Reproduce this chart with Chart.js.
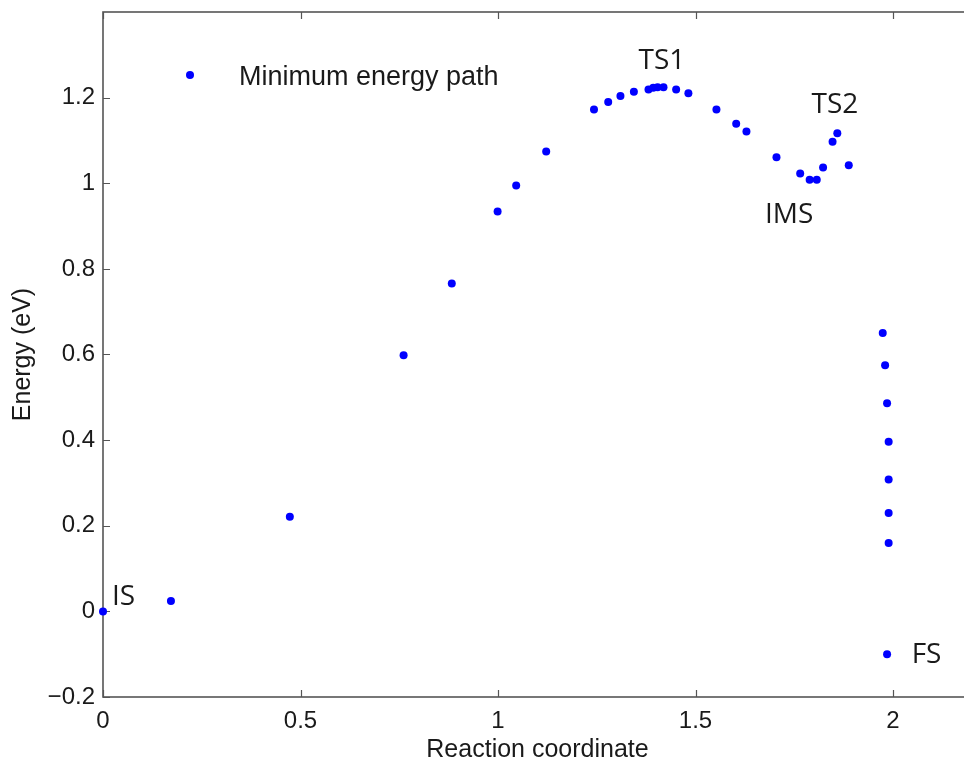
<!DOCTYPE html>
<html><head><meta charset="utf-8">
<script src="https://cdn.jsdelivr.net/npm/chart.js@4/dist/chart.umd.min.js"></script>
<style>
html,body{margin:0;padding:0;background:#fff;overflow:hidden;}
#wrap{position:relative;width:964px;height:762px;overflow:hidden;background:#fff;}
#c{position:absolute;left:0;top:0;}
</style></head><body>
<div id="wrap"><canvas id="c" width="984" height="762" style="width:984px;height:762px"></canvas></div>
<script>
const seriesName = 'Minimum energy path';
const reactionCoord = [0, 0.172, 0.473, 0.761, 0.883, 0.999, 1.046, 1.122, 1.243, 1.279, 1.310, 1.344, 1.381, 1.393, 1.404, 1.419, 1.451, 1.482, 1.553, 1.603, 1.629, 1.705, 1.765, 1.789, 1.807, 1.823, 1.847, 1.859, 1.888, 1.974, 1.980, 1.985, 1.989, 1.989, 1.989, 1.989, 1.985];
const energy = [0, 0.024, 0.221, 0.598, 0.766, 0.934, 0.995, 1.074, 1.172, 1.190, 1.204, 1.214, 1.219, 1.223, 1.224, 1.224, 1.219, 1.210, 1.172, 1.139, 1.121, 1.061, 1.023, 1.008, 1.008, 1.037, 1.097, 1.117, 1.042, 0.650, 0.575, 0.486, 0.396, 0.308, 0.230, 0.160, -0.100];
const xTickValues = [0, 0.5, 1, 1.5, 2];
const xTickLabels = ['0', '0.5', '1', '1.5', '2'];
const yTickValues = [-0.2, 0, 0.2, 0.4, 0.6, 0.8, 1, 1.2];
const yTickLabels = ['\u22120.2', '0', '0.2', '0.4', '0.6', '0.8', '1', '1.2'];
const stateNames = ['IS', 'TS1', 'TS2', 'IMS', 'FS'];
const stateNameX = [0.052, 1.415, 1.853, 1.737, 2.085];
const stateNameY = [0.016, 1.268, 1.165, 0.907, -0.120];

const AXIS_COLOR = '#555555';
const TEXT_COLOR = '#1a1a1a';
const POINT_COLOR = '#0000ff';

const framePlugin = {
  id: 'frame',
  beforeDatasetsDraw(chart) {
    const {ctx, chartArea: a, scales: {x, y}} = chart;
    ctx.save();
    ctx.strokeStyle = AXIS_COLOR;
    ctx.lineWidth = 1.6;
    ctx.strokeRect(a.left, a.top, a.right - a.left, a.bottom - a.top);
    ctx.lineWidth = 1.2;
    const tl = 7;
    ctx.beginPath();
    xTickValues.forEach(v => {
      const px = Math.round(x.getPixelForValue(v)) + 0.5;
      ctx.moveTo(px, a.bottom); ctx.lineTo(px, a.bottom - tl);
      ctx.moveTo(px, a.top); ctx.lineTo(px, a.top + tl);
    });
    yTickValues.forEach(v => {
      const py = Math.round(y.getPixelForValue(v)) + 0.5;
      ctx.moveTo(a.left, py); ctx.lineTo(a.left + tl, py);
      ctx.moveTo(a.right, py); ctx.lineTo(a.right - tl, py);
    });
    ctx.stroke();
    ctx.restore();
  },
  afterDraw(chart) {
    const {ctx, scales: {x, y}} = chart;
    ctx.save();
    // legend (inside the axes, top-left)
    ctx.fillStyle = POINT_COLOR;
    ctx.beginPath();
    ctx.arc(190, 75, 4, 0, Math.PI * 2);
    ctx.fill();
    ctx.fillStyle = TEXT_COLOR;
    ctx.font = '27px "Liberation Sans", Arial, sans-serif';
    ctx.textAlign = 'left';
    ctx.textBaseline = 'middle';
    ctx.fillText(chart.data.datasets[0].label, 239, 78);
    // state annotations
    ctx.font = '28px "Open Sans", sans-serif';
    ctx.textAlign = 'center';
    ctx.textBaseline = 'alphabetic';
    stateNames.forEach((t, i) => {
      ctx.fillText(t, x.getPixelForValue(stateNameX[i]), y.getPixelForValue(stateNameY[i]));
    });
    ctx.restore();
  }
};

new Chart(document.getElementById('c'), {
  type: 'scatter',
  data: {
    datasets: [{
      label: seriesName,
      data: reactionCoord.map((v, i) => ({x: v, y: energy[i]})),
      pointRadius: 4,
      pointHoverRadius: 4,
      pointBackgroundColor: POINT_COLOR,
      pointBorderWidth: 0,
      borderColor: POINT_COLOR,
      showLine: false,
      clip: false
    }]
  },
  options: {
    responsive: false,
    animation: false,
    devicePixelRatio: 1,
    layout: {padding: {left: 0, right: 12, top: 12, bottom: 0}},
    plugins: {legend: {display: false}, tooltip: {enabled: false}},
    scales: {
      x: {
        type: 'linear', position: 'bottom', min: 0, max: 2.2,
        afterBuildTicks: s => { s.ticks = xTickValues.map(v => ({value: v})); },
        afterFit: s => { s.height = 65; s.paddingLeft = 0; s.paddingRight = 0; },
        grid: {display: false, drawTicks: false},
        border: {display: false},
        ticks: {
          autoSkip: false, maxRotation: 0, padding: 10, color: TEXT_COLOR,
          font: {family: '"Liberation Sans", Arial, sans-serif', size: 24},
          callback: v => xTickLabels[xTickValues.indexOf(v)]
        },
        title: {
          display: true, text: 'Reaction coordinate', color: TEXT_COLOR,
          font: {family: '"Liberation Sans", Arial, sans-serif', size: 25, lineHeight: 1.0},
          padding: {top: 0, bottom: -1}
        }
      },
      y: {
        type: 'linear', position: 'left', min: -0.2, max: 1.4,
        afterBuildTicks: s => { s.ticks = yTickValues.map(v => ({value: v})); },
        afterFit: s => { s.width = 103; s.paddingTop = 0; s.paddingBottom = 0; },
        grid: {display: false, drawTicks: false},
        border: {display: false},
        ticks: {
          autoSkip: false, padding: 8, color: TEXT_COLOR,
          font: {family: '"Liberation Sans", Arial, sans-serif', size: 24},
          callback: v => yTickLabels[yTickValues.indexOf(v)]
        },
        title: {
          display: true, text: 'Energy (eV)', color: TEXT_COLOR,
          font: {family: '"Liberation Sans", Arial, sans-serif', size: 25, lineHeight: 1.2},
          padding: {top: 8, bottom: 0}
        }
      }
    }
  },
  plugins: [framePlugin]
});
</script>
</body></html>
